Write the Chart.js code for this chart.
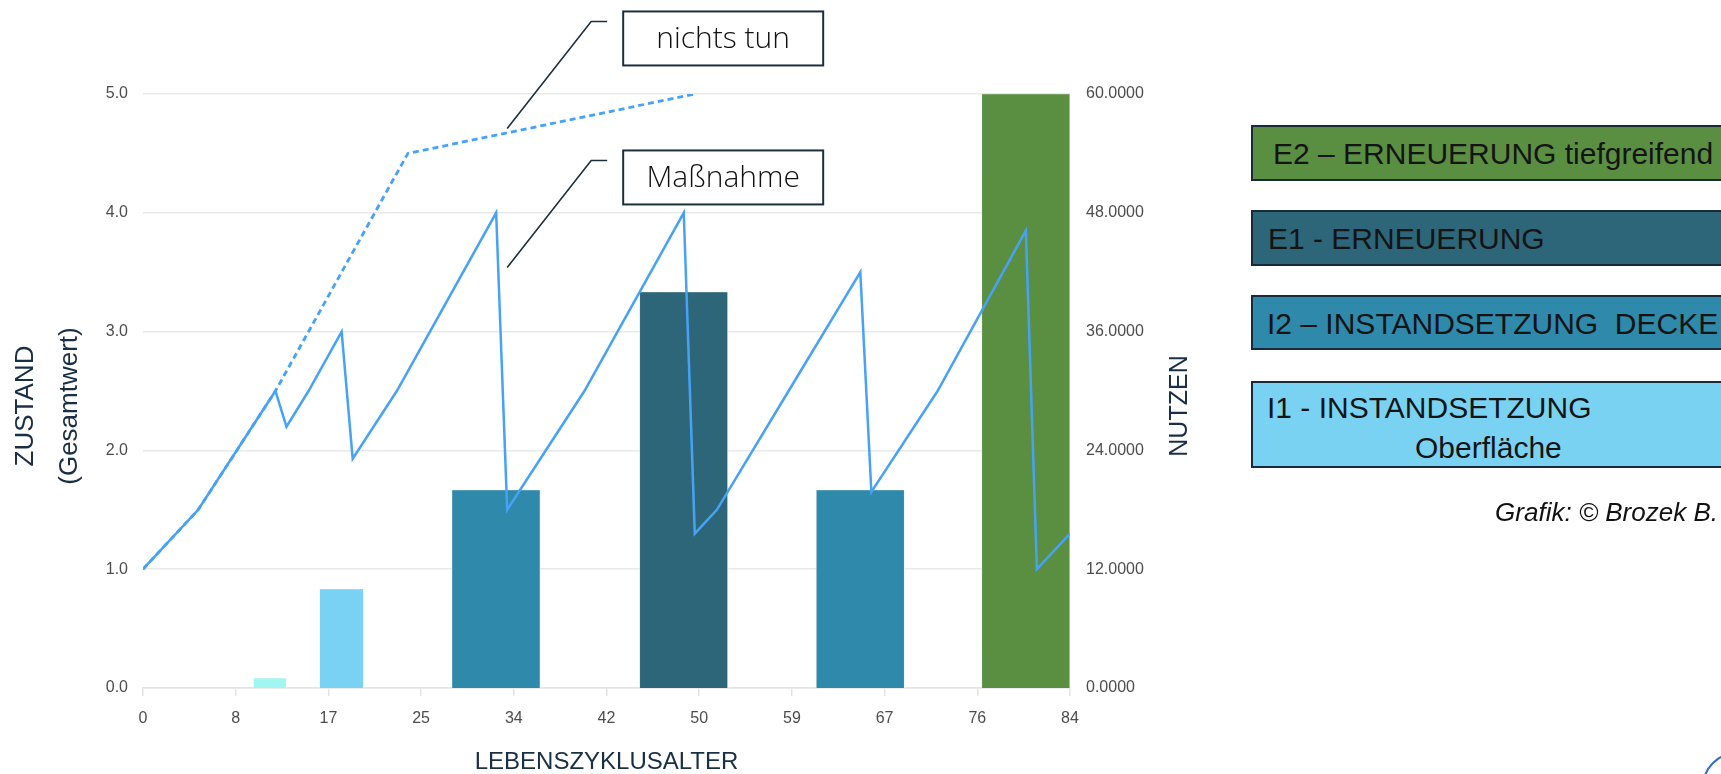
<!DOCTYPE html>
<html lang="de">
<head>
<meta charset="utf-8">
<title>Lebenszyklus – Zustand und Nutzen</title>
<script src="https://cdn.jsdelivr.net/npm/chart.js@4/dist/chart.umd.min.js"></script>
<style>
  html, body { margin: 0; padding: 0; background: #ffffff; overflow: hidden; }
  body { width: 1721px; height: 774px; position: relative; font-family: 'Liberation Sans', Arial, sans-serif; }
  #wrap { position: absolute; left: 0; top: 0; width: 1721px; height: 774px; }
  .leg { position: absolute; left: 1251px; width: 490px; border: 2px solid #17293a; box-sizing: border-box;
         font-size: 30px; color: #141414; white-space: pre; line-height: 1; }
  .leg span { position: absolute; }
  #credit { position: absolute; right: 3px; top: 497px; font-size: 26px; font-style: italic; color: #111; white-space: pre; }
  #corner { position: absolute; left: 1702px; top: 752px; width: 70px; height: 70px; border-radius: 50%;
            border: 2px solid #2f6fd0; box-sizing: border-box; }
</style>
</head>
<body>
<div id="wrap"><canvas id="c" width="1721" height="774" style="width:1721px;height:774px"></canvas></div>

<div class="leg" style="top:125px;height:56px;background:#5a8f42"><span style="left:20px;top:12px">E2 – ERNEUERUNG tiefgreifend</span></div>
<div class="leg" style="top:210px;height:56px;background:#2d6679"><span style="left:15px;top:12px">E1 - ERNEUERUNG</span></div>
<div class="leg" style="top:295px;height:55px;background:#2f89ab"><span style="left:14px;top:12px">I2 – INSTANDSETZUNG  DECKE</span></div>
<div class="leg" style="top:381px;height:87px;background:#7ad2f3"><span style="left:14px;top:10px">I1 - INSTANDSETZUNG</span><span style="left:162px;top:50px">Oberfläche</span></div>
<div id="credit">Grafik: © Brozek B.</div>
<div id="corner"></div>

<script>
// ---- Data ----
// "Maßnahme" scenario: condition (Zustand) over lifecycle age
const massnahmeAlter   = [0, 5, 12, 13, 15, 18, 19, 23, 32, 33, 40, 49, 50, 52, 58.5, 65, 66, 72, 80, 81, 84];
const massnahmeZustand = [1.0, 1.5, 2.5, 2.2, 2.5, 3.0, 1.93, 2.5, 4.0, 1.5, 2.5, 4.0, 1.3, 1.5, 2.5, 3.5, 1.65, 2.5, 3.85, 1.0, 1.3];
// "nichts tun" scenario
const nichtsTunAlter   = [0, 5, 12, 24, 50];
const nichtsTunZustand = [1.0, 1.5, 2.5, 4.5, 5.0];
// Measures (Nutzen bars, secondary axis)
const massnahmeTyp     = ['I0', 'I1', 'I2', 'E1', 'I2', 'E2'];
const massnahmeVon     = [10, 16, 28, 45, 61, 76];
const massnahmeBis     = [13, 20, 36, 53, 69, 84];
const massnahmeNutzen  = [1, 10, 20, 40, 20, 60];
// Tick labels
const alterTickLabels  = [0, 8, 17, 25, 34, 42, 50, 59, 67, 76, 84];
// Callout labels and the (age, condition) point they point at
const calloutTexte     = ['nichts tun', 'Maßnahme'];
const calloutAlter     = [33, 33];
const calloutZustand   = [4.71, 3.54];

// ---- Styles ----
const typFarbe = { I0: '#a3f5ef', I1: '#79d1f3', I2: '#2f89ab', E1: '#2d6679', E2: '#5a8f42' };
const lineBlue = '#47a2f5';
const navy = '#1a2e44';
const FONT = "'Liberation Sans', Arial, sans-serif";

const barDatasets = massnahmeTyp.map((typ, i) => ({
  type: 'line',
  label: typ,
  yAxisID: 'y2',
  data: [
    { x: massnahmeVon[i], y: 0 },
    { x: massnahmeVon[i], y: massnahmeNutzen[i] },
    { x: massnahmeBis[i], y: massnahmeNutzen[i] },
    { x: massnahmeBis[i], y: 0 }
  ],
  fill: 'origin',
  backgroundColor: typFarbe[typ],
  borderColor: 'rgba(255,255,255,0.35)',
  borderWidth: 1,
  pointRadius: 0,
  tension: 0,
  order: 2
}));

const titlePlugin = {
  id: 'axisTitles',
  afterDraw(chart) {
    const { ctx, chartArea: ca } = chart;
    const cy = (ca.top + ca.bottom) / 2 + 15;
    ctx.save();
    ctx.fillStyle = navy;
    ctx.textAlign = 'center';
    ctx.textBaseline = 'middle';
    const draw = (txt, x, size) => {
      ctx.font = size + 'px ' + FONT;
      ctx.save(); ctx.translate(x, cy); ctx.rotate(-Math.PI / 2); ctx.fillText(txt, 0, 0); ctx.restore();
    };
    draw('ZUSTAND', ca.left - 117, 26);
    draw('(Gesamtwert)', ca.left - 73, 26);
    draw('NUTZEN', ca.right + 110, 25);
    ctx.restore();
  }
};

const calloutPlugin = {
  id: 'callouts',
  afterDraw(chart) {
    const { ctx, scales: { x, y } } = chart;
    ctx.save();
    calloutTexte.forEach((txt, i) => {
      const ax = x.getPixelForValue(calloutAlter[i]);
      const ay = y.getPixelForValue(calloutZustand[i]);
      const cx = ax + 84, cyy = ay - 107;
      ctx.strokeStyle = '#1b2f3d';
      ctx.lineWidth = 1.6;
      ctx.beginPath();
      ctx.moveTo(ax, ay);
      ctx.lineTo(cx, cyy);
      ctx.lineTo(cx + 16, cyy);
      ctx.stroke();
      const bx = ax + 116, by = cyy - 10, bw = 200, bh = 54;
      ctx.fillStyle = '#ffffff';
      ctx.fillRect(bx, by, bw, bh);
      ctx.lineWidth = 2;
      ctx.strokeRect(bx, by, bw, bh);
      ctx.fillStyle = '#111111';
      ctx.font = '300 30px "Open Sans", ' + FONT;
      ctx.textAlign = 'center';
      ctx.textBaseline = 'middle';
      ctx.fillText(txt, bx + bw / 2, by + bh / 2 + 1);
    });
    ctx.restore();
  }
};

new Chart(document.getElementById('c'), {
  type: 'line',
  data: {
    datasets: [
      {
        label: 'Maßnahme',
        yAxisID: 'y',
        data: massnahmeAlter.map((a, i) => ({ x: a, y: massnahmeZustand[i] })),
        borderColor: lineBlue,
        borderWidth: 2.5,
        pointRadius: 0,
        tension: 0,
        fill: false,
        order: 0
      },
      {
        label: 'nichts tun',
        yAxisID: 'y',
        data: nichtsTunAlter.map((a, i) => ({ x: a, y: nichtsTunZustand[i] })),
        borderColor: lineBlue,
        borderWidth: 2.8,
        borderDash: [6, 4],
        pointRadius: 0,
        tension: 0,
        fill: false,
        order: 0
      },
      ...barDatasets
    ]
  },
  options: {
    responsive: false,
    animation: false,
    layout: { padding: { top: 94, right: 0, bottom: 0, left: 0 } },
    plugins: { legend: { display: false }, tooltip: { enabled: false } },
    scales: {
      x: {
        type: 'linear', min: 0, max: 84,
        ticks: {
          stepSize: 8.4, autoSkip: false, maxRotation: 0,
          callback: (v, i) => alterTickLabels[i],
          font: { family: FONT, size: 16 }, color: '#4d4d4d', padding: 13
        },
        grid: { drawOnChartArea: false, tickLength: 8, color: '#e3e3e3', lineWidth: 1.5 },
        border: { color: '#e3e3e3', width: 1.5 },
        title: {
          display: true, text: 'LEBENSZYKLUSALTER', color: navy,
          font: { family: FONT, size: 24, lineHeight: 1 }, padding: { top: 0, bottom: 0 }
        },
        afterFit: s => { s.height = 86; }
      },
      y: {
        position: 'left', min: 0, max: 5,
        ticks: { stepSize: 1, callback: v => v.toFixed(1), font: { family: FONT, size: 16 }, color: '#4d4d4d', padding: 15 },
        grid: { color: '#e9e9e9', lineWidth: 1.5, drawTicks: false },
        border: { display: false },
        afterFit: s => { s.width = 143; }
      },
      y2: {
        position: 'right', min: 0, max: 60,
        ticks: { stepSize: 12, callback: v => v.toFixed(4), font: { family: FONT, size: 16 }, color: '#4d4d4d', padding: 16 },
        grid: { display: false, drawTicks: false },
        border: { display: false },
        afterFit: s => { s.width = 651; }
      }
    }
  },
  plugins: [titlePlugin, calloutPlugin]
});
</script>
</body>
</html>
